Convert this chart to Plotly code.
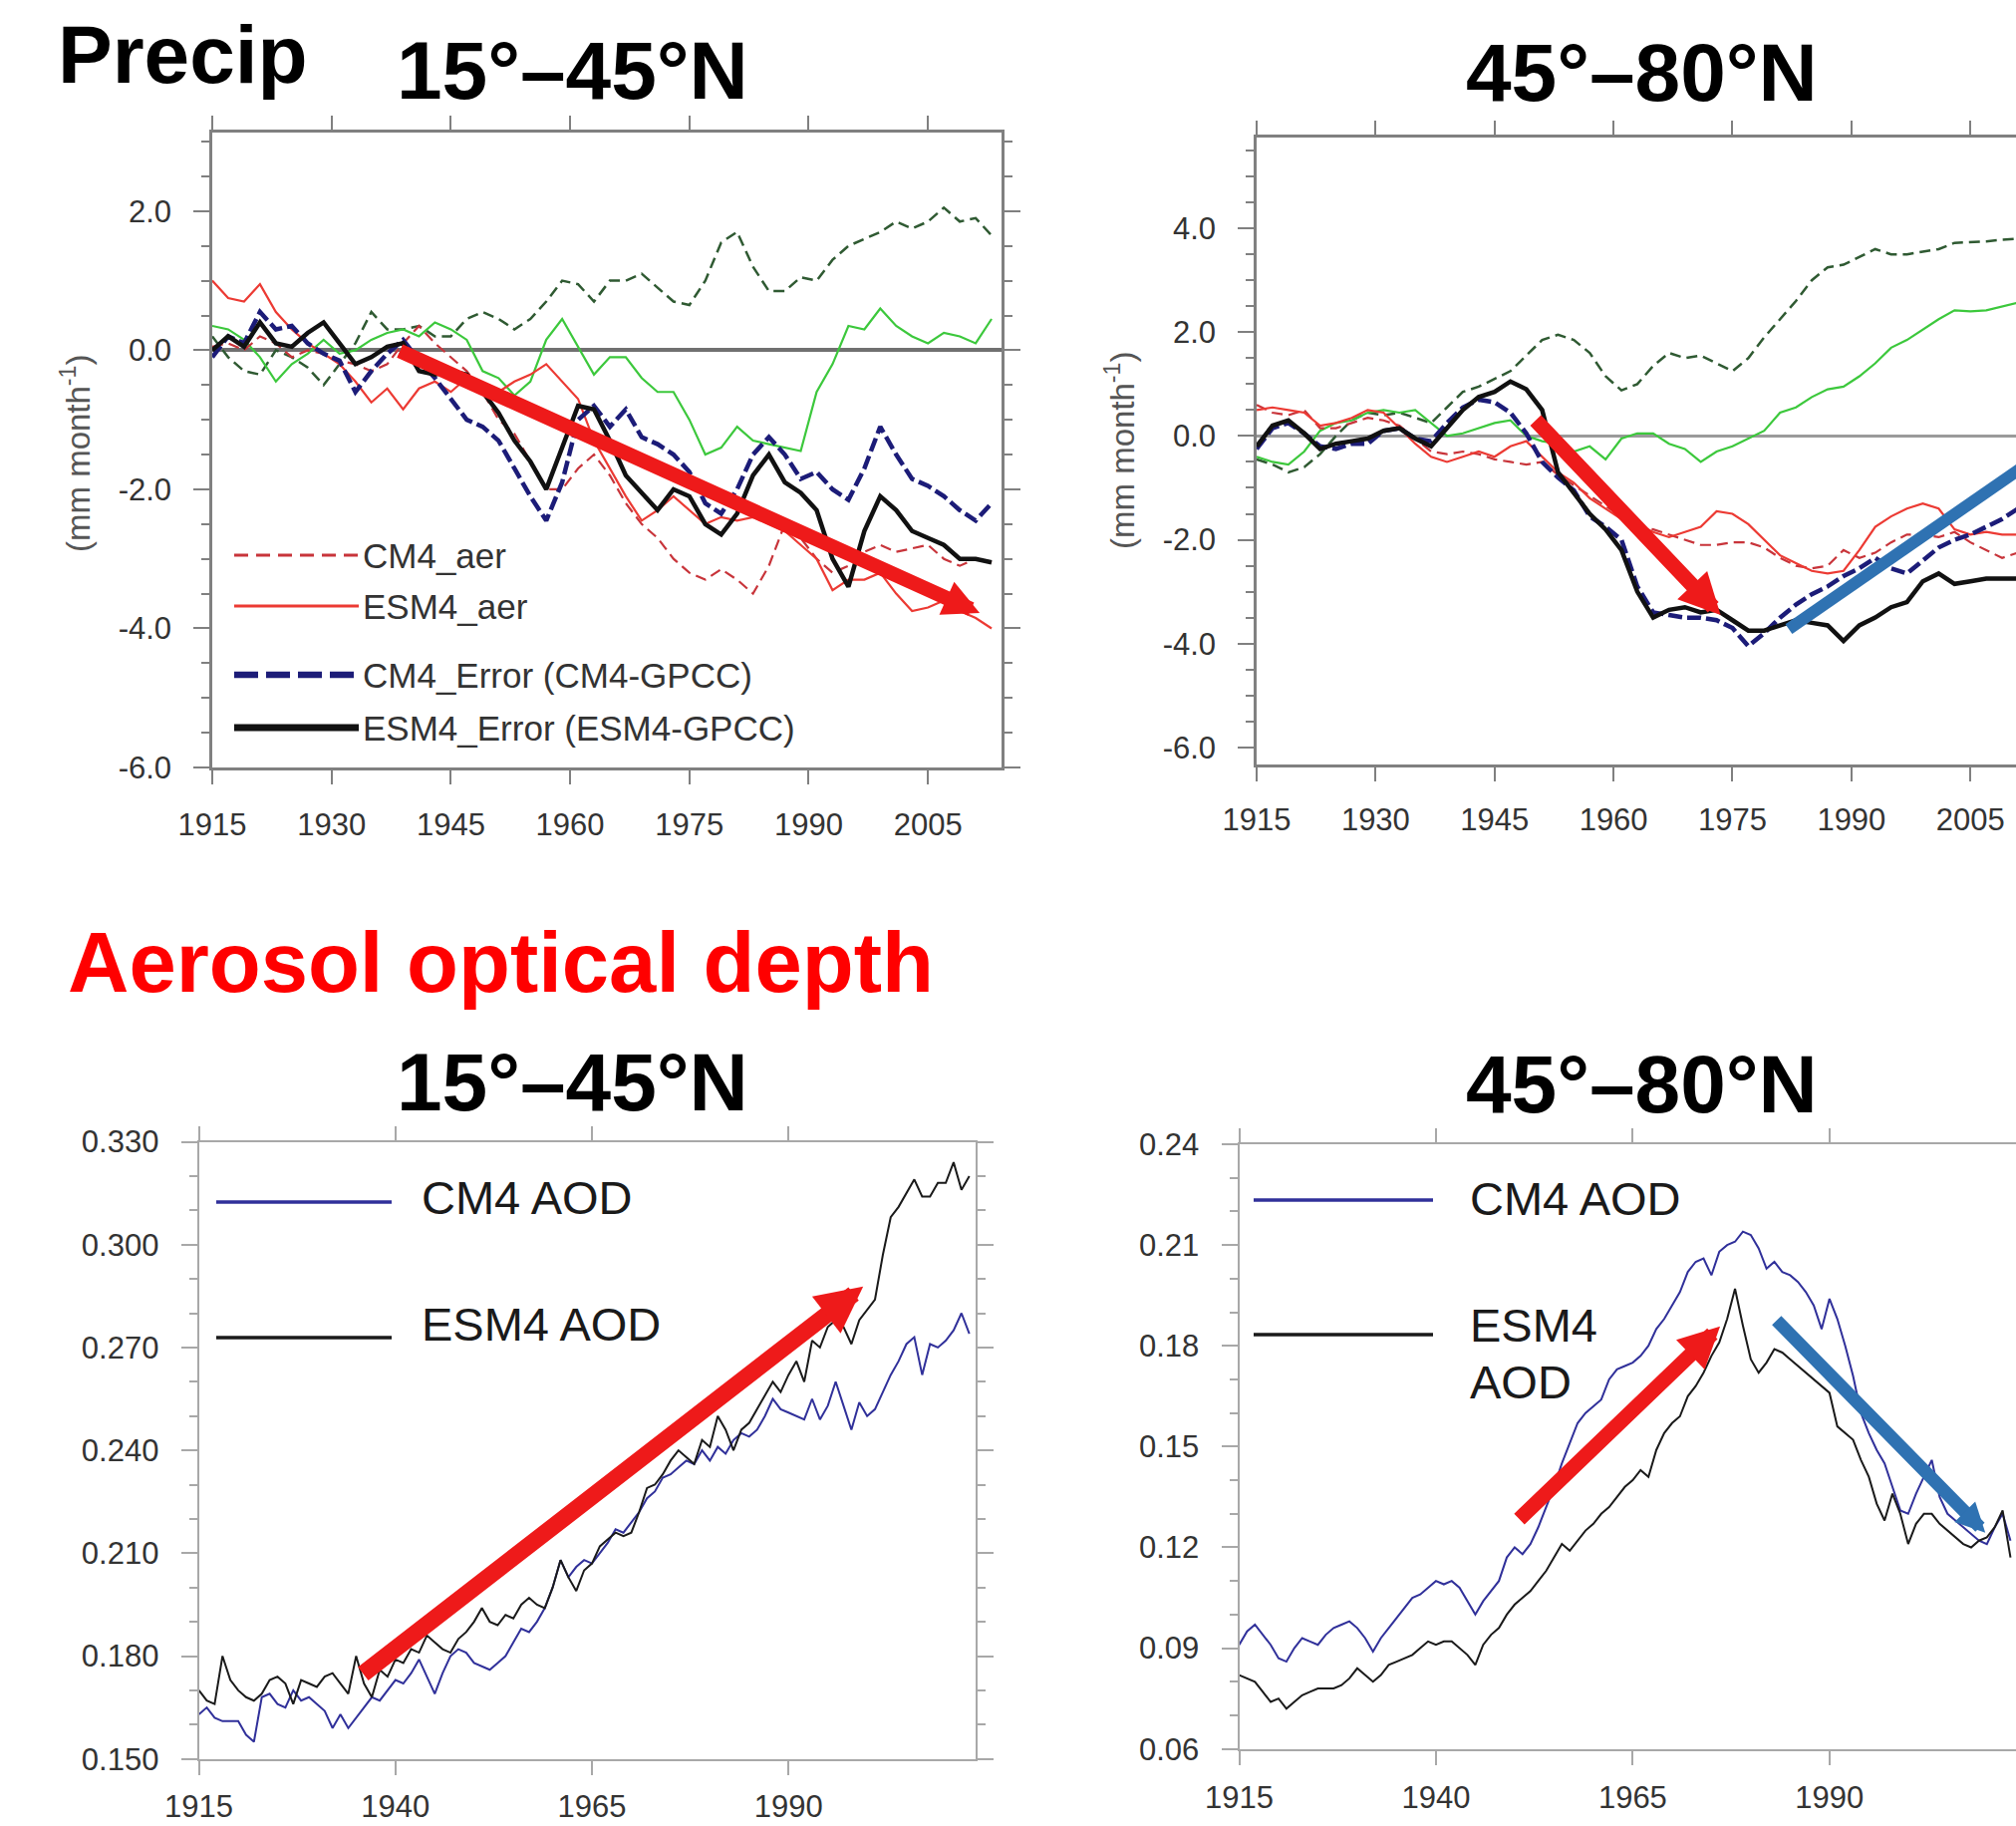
import plotly.graph_objects as go

W, H = 2023, 1832

# ---------------- DATA ----------------
YEARS_P = [1915, 1917, 1919, 1921, 1923, 1925, 1927, 1929, 1931, 1933,
           1935, 1937, 1939, 1941, 1943, 1945, 1947, 1949, 1951, 1953,
           1955, 1957, 1959, 1961, 1963, 1965, 1967, 1969, 1971, 1973,
           1975, 1977, 1979, 1981, 1983, 1985, 1987, 1989, 1991, 1993,
           1995, 1997, 1999, 2001, 2003, 2005, 2007, 2009, 2011, 2013]

# Precip 15-45N (mm month-1)
P1_CM4_AER = [0.05, 0.1, 0.0, 0.2, 0.1, -0.1, 0.0, -0.05, -0.15, -0.2,
              -0.3, -0.2, 0.1, 0.35, 0.1, -0.1, -0.3, -0.6, -1.0, -1.2,
              -1.6, -2.0, -2.0, -1.7, -1.5, -1.8, -2.2, -2.5, -2.7, -3.0,
              -3.2, -3.3, -3.15, -3.3, -3.5, -3.1, -2.5, -2.7, -3.0, -3.2,
              -3.1, -2.9, -2.8, -2.9, -2.85, -2.8, -3.0, -3.1, -3.0, -3.05]
P1_ESM4_AER = [1.0, 0.75, 0.7, 0.95, 0.55, 0.3, 0.1, -0.05, -0.2, -0.45,
               -0.75, -0.55, -0.85, -0.55, -0.45, -0.6, -0.4, -0.55, -0.6, -0.45,
               -0.35, -0.2, -0.45, -0.7, -1.3, -1.7, -2.1, -2.45, -2.3, -2.1,
               -2.3, -2.5, -2.4, -2.45, -2.4, -2.5, -2.6, -2.8, -3.0, -3.45,
               -3.3, -3.3, -3.2, -3.5, -3.75, -3.7, -3.6, -3.75, -3.85, -4.0]
P1_CM4_ERR = [-0.1, 0.2, 0.1, 0.55, 0.3, 0.35, 0.1, -0.05, -0.15, -0.6,
              -0.3, -0.05, 0.15, -0.15, -0.4, -0.7, -1.0, -1.1, -1.3, -1.7,
              -2.1, -2.45, -1.9, -1.0, -0.8, -1.1, -0.85, -1.25, -1.35, -1.5,
              -1.75, -2.2, -2.35, -2.0, -1.5, -1.25, -1.5, -1.85, -1.75, -2.0,
              -2.15, -1.7, -1.1, -1.5, -1.85, -1.95, -2.1, -2.3, -2.45, -2.2]
P1_ESM4_ERR = [0.0, 0.2, 0.05, 0.4, 0.1, 0.05, 0.25, 0.4, 0.1, -0.2,
               -0.1, 0.05, 0.1, -0.3, -0.35, -0.3, -0.35, -0.6, -0.9, -1.3,
               -1.6, -2.0, -1.4, -0.8, -0.85, -1.3, -1.8, -2.05, -2.3, -2.0,
               -2.1, -2.5, -2.65, -2.35, -1.8, -1.5, -1.9, -2.05, -2.3, -3.0,
               -3.4, -2.6, -2.1, -2.3, -2.6, -2.7, -2.8, -3.0, -3.0, -3.05]
P1_GREEN_DASH = [0.2, -0.1, -0.3, -0.35, 0.0, -0.1, -0.25, -0.5, -0.2, 0.1,
                 0.55, 0.3, 0.3, 0.35, 0.2, 0.2, 0.45, 0.55, 0.45, 0.3,
                 0.45, 0.7, 1.0, 0.95, 0.7, 1.0, 1.0, 1.1, 0.9, 0.7,
                 0.65, 1.0, 1.55, 1.7, 1.2, 0.85, 0.85, 1.05, 1.0, 1.3,
                 1.5, 1.6, 1.7, 1.85, 1.75, 1.85, 2.05, 1.85, 1.9, 1.65]
P1_GREEN = [0.35, 0.3, 0.15, -0.1, -0.45, -0.2, -0.05, 0.15, -0.05, 0.0,
            0.15, 0.25, 0.3, 0.2, 0.4, 0.3, 0.15, -0.3, -0.4, -0.65,
            -0.45, 0.15, 0.45, 0.05, -0.35, -0.1, -0.1, -0.4, -0.6, -0.6,
            -1.0, -1.5, -1.4, -1.1, -1.3, -1.35, -1.4, -1.45, -0.6, -0.2,
            0.35, 0.3, 0.6, 0.35, 0.2, 0.1, 0.25, 0.2, 0.1, 0.45]

# Precip 45-80N (mm month-1)
P2_CM4_AER = [0.6, 0.45, 0.4, 0.5, 0.15, 0.15, 0.25, 0.35, 0.3, 0.2,
              -0.05, -0.3, -0.35, -0.3, -0.35, -0.45, -0.5, -0.55, -0.5, -0.75,
              -0.95, -1.15, -1.35, -1.55, -1.75, -1.8, -1.9, -2.0, -2.1, -2.1,
              -2.05, -2.05, -2.15, -2.35, -2.5, -2.55, -2.5, -2.2, -2.35, -2.25,
              -2.05, -1.9, -1.9, -1.95, -1.85, -2.05, -2.2, -2.35, -2.25, -2.2]
P2_ESM4_AER = [0.5, 0.55, 0.5, 0.45, 0.2, 0.25, 0.35, 0.5, 0.45, 0.15,
               -0.15, -0.4, -0.5, -0.4, -0.3, -0.4, -0.2, -0.1, -0.4, -0.7,
               -0.9, -1.2, -1.4, -1.6, -1.7, -1.85, -1.95, -1.85, -1.75, -1.45,
               -1.5, -1.7, -2.0, -2.3, -2.45, -2.6, -2.65, -2.6, -2.2, -1.75,
               -1.55, -1.4, -1.3, -1.4, -1.8, -1.9, -1.85, -1.9, -1.9, -1.9]
P2_CM4_ERR = [-0.25, 0.15, 0.25, 0.05, -0.2, -0.25, -0.15, -0.15, 0.1, 0.15,
              -0.05, -0.1, 0.25, 0.55, 0.7, 0.65, 0.45, 0.05, -0.5, -0.8,
              -1.05, -1.55, -1.75, -2.0, -2.9, -3.4, -3.45, -3.5, -3.5, -3.55,
              -3.7, -4.05, -3.8, -3.5, -3.25, -3.05, -2.9, -2.7, -2.55, -2.35,
              -2.55, -2.65, -2.4, -2.15, -2.0, -1.9, -1.75, -1.6, -1.4, -1.3]
P2_ESM4_ERR = [-0.2, 0.2, 0.3, 0.05, -0.25, -0.15, -0.1, -0.05, 0.1, 0.15,
               -0.05, -0.2, 0.15, 0.5, 0.75, 0.85, 1.05, 0.9, 0.5, -0.7,
               -1.1, -1.5, -1.8, -2.2, -3.0, -3.5, -3.35, -3.3, -3.4, -3.35,
               -3.55, -3.75, -3.75, -3.65, -3.55, -3.6, -3.65, -3.95, -3.65, -3.5,
               -3.3, -3.2, -2.8, -2.65, -2.85, -2.8, -2.75, -2.75, -2.75, -2.7]
P2_GREEN_DASH = [-0.45, -0.55, -0.7, -0.6, -0.35, 0.0, 0.3, 0.45, 0.4, 0.45,
                 0.35, 0.25, 0.55, 0.85, 0.95, 1.1, 1.25, 1.55, 1.85, 1.95,
                 1.85, 1.6, 1.15, 0.88, 1.0, 1.35, 1.6, 1.5, 1.55, 1.4,
                 1.25, 1.5, 1.9, 2.25, 2.6, 3.0, 3.25, 3.3, 3.45, 3.6,
                 3.5, 3.5, 3.55, 3.6, 3.72, 3.73, 3.75, 3.78, 3.8, 3.8]
P2_GREEN = [-0.4, -0.5, -0.55, -0.3, 0.1, 0.25, 0.3, 0.45, 0.5, 0.45,
            0.5, 0.25, 0.0, 0.05, 0.15, 0.25, 0.3, 0.0, -0.1, -0.15,
            -0.3, -0.2, -0.45, -0.05, 0.05, 0.05, -0.15, -0.25, -0.5, -0.3,
            -0.2, -0.05, 0.1, 0.45, 0.55, 0.75, 0.9, 0.95, 1.15, 1.4,
            1.7, 1.85, 2.05, 2.25, 2.42, 2.4, 2.42, 2.5, 2.57, 2.6]

YEARS_A = list(range(1915, 2014))

# AOD 15-45N
A1_CM4 = [0.163, 0.165, 0.162, 0.161, 0.161, 0.161, 0.157, 0.155, 0.168, 0.169,
          0.166, 0.165, 0.170, 0.167, 0.168, 0.166, 0.164, 0.159, 0.163, 0.159,
          0.162, 0.165, 0.168, 0.167, 0.170, 0.173, 0.172, 0.175, 0.179, 0.174,
          0.169, 0.175, 0.180, 0.182, 0.181, 0.178, 0.177, 0.176, 0.178, 0.180,
          0.184, 0.188, 0.187, 0.190, 0.194, 0.200, 0.208, 0.203, 0.206, 0.208,
          0.207, 0.210, 0.213, 0.217, 0.216, 0.219, 0.222, 0.226, 0.228, 0.232,
          0.233, 0.235, 0.237, 0.236, 0.240, 0.237, 0.241, 0.239, 0.243, 0.245,
          0.244, 0.246, 0.250, 0.255, 0.252, 0.251, 0.250, 0.249, 0.255, 0.249,
          0.253, 0.260, 0.253, 0.246, 0.254, 0.250, 0.252, 0.257, 0.262, 0.266,
          0.271, 0.273, 0.262, 0.271, 0.270, 0.272, 0.275, 0.280, 0.274]
A1_ESM4 = [0.170, 0.167, 0.166, 0.180, 0.173, 0.170, 0.168, 0.167, 0.169, 0.173,
           0.174, 0.172, 0.166, 0.173, 0.172, 0.171, 0.174, 0.175, 0.172, 0.169,
           0.180, 0.172, 0.168, 0.176, 0.174, 0.179, 0.178, 0.182, 0.181, 0.186,
           0.184, 0.182, 0.181, 0.185, 0.187, 0.190, 0.194, 0.190, 0.189, 0.192,
           0.191, 0.195, 0.197, 0.195, 0.194, 0.200, 0.208, 0.203, 0.199, 0.205,
           0.207, 0.212, 0.214, 0.216, 0.215, 0.216, 0.222, 0.229, 0.230, 0.233,
           0.237, 0.240, 0.238, 0.236, 0.243, 0.241, 0.250, 0.246, 0.240, 0.246,
           0.248, 0.252, 0.256, 0.260, 0.257, 0.262, 0.266, 0.260, 0.272, 0.270,
           0.276, 0.278, 0.276, 0.271, 0.278, 0.281, 0.284, 0.297, 0.308, 0.311,
           0.315, 0.319, 0.314, 0.314, 0.318, 0.318, 0.324, 0.316, 0.320]

# AOD 45-80N
A2_CM4 = [0.091, 0.095, 0.097, 0.094, 0.091, 0.087, 0.086, 0.090, 0.093, 0.092,
          0.091, 0.094, 0.096, 0.097, 0.098, 0.096, 0.093, 0.089, 0.093, 0.096,
          0.099, 0.102, 0.105, 0.106, 0.108, 0.110, 0.109, 0.110, 0.108, 0.104,
          0.100, 0.104, 0.107, 0.110, 0.117, 0.120, 0.118, 0.121, 0.126, 0.132,
          0.138, 0.145, 0.151, 0.157, 0.160, 0.162, 0.164, 0.170, 0.173, 0.174,
          0.175, 0.177, 0.180, 0.185, 0.188, 0.192, 0.196, 0.202, 0.205, 0.206,
          0.201, 0.208, 0.210, 0.211, 0.214, 0.213, 0.209, 0.203, 0.205, 0.202,
          0.201, 0.199, 0.196, 0.192, 0.185, 0.194, 0.188, 0.180, 0.171, 0.160,
          0.154, 0.149, 0.145, 0.138, 0.131, 0.130, 0.136, 0.141, 0.146, 0.135,
          0.130, 0.128, 0.126, 0.124, 0.122, 0.121, 0.126, 0.130, 0.122]
A2_ESM4 = [0.082, 0.081, 0.080, 0.077, 0.074, 0.075, 0.072, 0.074, 0.076, 0.077,
           0.078, 0.078, 0.078, 0.079, 0.081, 0.084, 0.082, 0.080, 0.082, 0.085,
           0.086, 0.087, 0.088, 0.090, 0.092, 0.091, 0.092, 0.092, 0.090, 0.088,
           0.085, 0.091, 0.094, 0.096, 0.100, 0.103, 0.105, 0.107, 0.110, 0.113,
           0.117, 0.121, 0.119, 0.122, 0.125, 0.127, 0.130, 0.132, 0.135, 0.138,
           0.140, 0.143, 0.141, 0.149, 0.154, 0.157, 0.159, 0.165, 0.168, 0.172,
           0.177, 0.181, 0.188, 0.197, 0.186, 0.176, 0.172, 0.175, 0.179, 0.178,
           0.176, 0.174, 0.172, 0.170, 0.168, 0.166, 0.156, 0.154, 0.152, 0.146,
           0.141, 0.133, 0.128, 0.136, 0.130, 0.121, 0.127, 0.130, 0.130, 0.127,
           0.125, 0.123, 0.121, 0.120, 0.122, 0.123, 0.126, 0.131, 0.117]

# Ticks
P1_XTICKS = [1915, 1930, 1945, 1960, 1975, 1990, 2005]
P1_YTICKS = [-6, -4, -2, 0, 2]
P2_YTICKS = [-6, -4, -2, 0, 2, 4]
A_XTICKS = [1915, 1940, 1965, 1990]
A1_YTICKS = [0.150, 0.180, 0.210, 0.240, 0.270, 0.300, 0.330]
A2_YTICKS = [0.06, 0.09, 0.12, 0.15, 0.18, 0.21, 0.24]

# Trend arrows (tail year, tail value, head year, head value)
P1_RED = (1938.4, 0.0, 2011.5, -3.78)
P2_RED = (1950.0, 0.33, 1973.5, -3.45)
P2_BLUE = (1982.1, -3.72, 2013.0, -0.45)
A1_RED = (1935.7, 0.1745, 1999.5, 0.2878)
A2_RED = (1950.4, 0.128, 1976.1, 0.1858)
A2_BLUE = (1983.1, 0.188, 2009.8, 0.1244)

# ---------------- STYLE ----------------
FONT = "Liberation Sans, Arial, Helvetica, sans-serif"
RED_D = "#c8343a"
RED_S = "#ec3a33"
NAVY = "#1c1c78"
BLACK = "#111111"
DKGREEN = "#2f5a32"
LTGREEN = "#3cc83c"
AOD_BLUE = "#30309a"
ARROW_RED = "#ee1a1a"
ARROW_BLUE = "#2f72b2"
TICK_TXT = "#333333"


def X(px):
    return px / W


def Y(py):
    return 1 - py / H


fig = go.Figure()


def add_precip(xa, ya, cm4a, esm4a, cm4e, esm4e, gd, gs):
    common = dict(x=YEARS_P, mode="lines", xaxis=xa, yaxis=ya, showlegend=False,
                  hoverinfo="skip")
    fig.add_trace(go.Scatter(y=gd, line=dict(color=DKGREEN, width=2.5, dash="11px,6px"), **common))
    fig.add_trace(go.Scatter(y=gs, line=dict(color=LTGREEN, width=2.2), **common))
    fig.add_trace(go.Scatter(y=cm4a, line=dict(color=RED_D, width=2.2, dash="11px,6px"), **common))
    fig.add_trace(go.Scatter(y=esm4a, line=dict(color=RED_S, width=2.2), **common))
    fig.add_trace(go.Scatter(y=cm4e, line=dict(color=NAVY, width=4.5, dash="14px,5px"), **common))
    fig.add_trace(go.Scatter(y=esm4e, line=dict(color=BLACK, width=4.5), **common))


add_precip("x", "y", P1_CM4_AER, P1_ESM4_AER, P1_CM4_ERR, P1_ESM4_ERR, P1_GREEN_DASH, P1_GREEN)
add_precip("x2", "y2", P2_CM4_AER, P2_ESM4_AER, P2_CM4_ERR, P2_ESM4_ERR, P2_GREEN_DASH, P2_GREEN)

for xa, ya, cm4, esm4 in [("x3", "y3", A1_CM4, A1_ESM4), ("x4", "y4", A2_CM4, A2_ESM4)]:
    fig.add_trace(go.Scatter(x=YEARS_A, y=cm4, mode="lines", xaxis=xa, yaxis=ya,
                             line=dict(color=AOD_BLUE, width=2), showlegend=False, hoverinfo="skip"))
    fig.add_trace(go.Scatter(x=YEARS_A, y=esm4, mode="lines", xaxis=xa, yaxis=ya,
                             line=dict(color="#1a1a1a", width=2), showlegend=False, hoverinfo="skip"))


def xax(dom, rng, ticks, anchor, lc, lw, standoff=14):
    return dict(domain=dom, range=rng, anchor=anchor, tickvals=ticks,
                ticktext=[str(t) for t in ticks], showline=True, linecolor=lc,
                linewidth=lw, mirror="ticks", ticks="outside", ticklen=14, tickwidth=2,
                tickcolor=lc, tickfont=dict(family=FONT, size=31, color=TICK_TXT),
                ticklabelstandoff=standoff, showgrid=False, zeroline=False, fixedrange=True,
                automargin=False)


def yax(dom, rng, ticks, fmt, anchor, lc, lw, mirror, minor_dt, zero):
    d = dict(domain=dom, range=rng, anchor=anchor, tickvals=ticks,
             ticktext=[fmt.format(t).replace("\u2212", "-") for t in ticks],
             showline=True, linecolor=lc, linewidth=lw, mirror=mirror,
             ticks="outside", ticklen=16, tickwidth=2, tickcolor=lc,
             tickfont=dict(family=FONT, size=31, color=TICK_TXT),
             ticklabelstandoff=16, showgrid=False, fixedrange=True, automargin=False,
             minor=dict(ticks="outside", ticklen=8, tickwidth=1.5, tickcolor=lc,
                        dtick=minor_dt, showgrid=False))
    if zero:
        d.update(zeroline=True, zerolinecolor="#707070", zerolinewidth=3.5)
    else:
        d.update(zeroline=False)
    return d


fig.update_layout(
    width=W, height=H, margin=dict(l=0, r=0, t=0, b=0, autoexpand=False),
    paper_bgcolor="white", plot_bgcolor="white", showlegend=False,
    xaxis=xax([X(213), X(1005)], [1915, 2014.25], P1_XTICKS, "y", "#808080", 2.5),
    yaxis=yax([Y(770), Y(133)], [-6, 3.13], P1_YTICKS, "{:.1f}", "x", "#808080", 2.5, "ticks", 0.5, True),
    xaxis2=xax([X(1261), 1.0], [1915, 2010.75], P1_XTICKS, "y2", "#808080", 2.5, 12),
    yaxis2=yax([Y(767), Y(138)], [-6.33, 5.75], P2_YTICKS, "{:.1f}", "x2", "#808080", 2.5, False, 0.5, True),
    xaxis3=xax([X(199.6), X(979)], [1915, 2013.8], A_XTICKS, "y3", "#a8a8a8", 2, 5),
    yaxis3=yax([Y(1764.7), Y(1145.5)], [0.150, 0.330], A1_YTICKS, "{:.3f}", "x3", "#a8a8a8", 2, "ticks", 0.01, False),
    xaxis4=xax([X(1243.5), 1.0], [1915, 2013.7], A_XTICKS, "y4", "#a8a8a8", 2, 6),
    yaxis4=yax([Y(1754.7), Y(1148)], [0.06, 0.24], A2_YTICKS, "{:.2f}", "x4", "#a8a8a8", 2, False, 0.01, False),
)
fig.layout.yaxis2.zerolinecolor = "#9a9a9a"
fig.layout.yaxis2.zerolinewidth = 3

annotations = []
shapes = []


def text(x, y, s, size, color="black", xanchor="left", bold=False, angle=0):
    annotations.append(dict(xref="paper", yref="paper", x=X(x), y=Y(y), text=(f"<b>{s}</b>" if bold else s),
                            showarrow=False, xanchor=xanchor, yanchor="middle", textangle=angle,
                            font=dict(family=FONT, size=size, color=color)))


# Big titles
text(56, 55, "Precip", 82, bold=True)
text(574, 70, "15°–45°N", 82, xanchor="center", bold=True)
text(1647, 73, "45°–80°N", 82, xanchor="center", bold=True)
text(66, 965, "Aerosol optical depth", 85, color="#ff0000", bold=True)
text(574, 1085, "15°–45°N", 82, xanchor="center", bold=True)
text(1647, 1087, "45°–80°N", 82, xanchor="center", bold=True)

# y-axis titles
text(76, 455, "(mm month<sup>-1</sup>)", 33, color="#555555", xanchor="center", angle=-90)
text(1124, 452, "(mm month<sup>-1</sup>)", 33, color="#555555", xanchor="center", angle=-90)

# Precip legend (panel 1)
LEG = [(557, "CM4_aer", RED_D, 3, "14px,8px"),
       (608, "ESM4_aer", RED_S, 3, "solid"),
       (677, "CM4_Error (CM4-GPCC)", NAVY, 6.5, "24px,8px"),
       (730, "ESM4_Error (ESM4-GPCC)", BLACK, 7, "solid")]
for yy, lab, col, lw, dash in LEG:
    shapes.append(dict(type="line", xref="paper", yref="paper", x0=X(235), x1=X(360), y0=Y(yy), y1=Y(yy),
                       line=dict(color=col, width=lw, dash=dash)))
    text(362, yy, lab, 35, color="#333333")

# AOD legends
for (x0, x1, tx, rows) in [(217, 393, 421, [(1206, 1201, "CM4 AOD", AOD_BLUE), (1342, 1328, "ESM4 AOD", "#1a1a1a")]),
                           (1258, 1438, 1473, [(1204, 1202, "CM4 AOD", AOD_BLUE), (1339, 1329, "ESM4", "#1a1a1a")])]:
    for ly, ty, lab, col in rows:
        shapes.append(dict(type="line", xref="paper", yref="paper", x0=X(x0), x1=X(x1), y0=Y(ly), y1=Y(ly),
                           line=dict(color=col, width=3.5)))
        text(tx, ty, lab, 47, color="#1a1a1a")
text(1473, 1386, "AOD", 47, color="#1a1a1a")


def arrow(xa, ya, spec, color, width, size=0.55):
    x0, y0, x1, y1 = spec
    annotations.append(dict(xref=xa, yref=ya, axref=xa, ayref=ya, x=x1, y=y1, ax=x0, ay=y0, text="",
                            showarrow=True, arrowhead=2, arrowsize=size, arrowwidth=width,
                            arrowcolor=color))


arrow("x", "y", P1_RED, ARROW_RED, 14.5, 0.5)
arrow("x2", "y2", P2_RED, ARROW_RED, 15)
arrow("x3", "y3", A1_RED, ARROW_RED, 17)
arrow("x4", "y4", A2_RED, ARROW_RED, 15)
arrow("x4", "y4", A2_BLUE, ARROW_BLUE, 13, 0.45)
shapes.append(dict(type="line", xref="x2", yref="y2", x0=P2_BLUE[0], y0=P2_BLUE[1], x1=P2_BLUE[2], y1=P2_BLUE[3],
                   line=dict(color=ARROW_BLUE, width=12)))

fig.update_layout(annotations=annotations, shapes=shapes)
fig.write_html("out.html")
